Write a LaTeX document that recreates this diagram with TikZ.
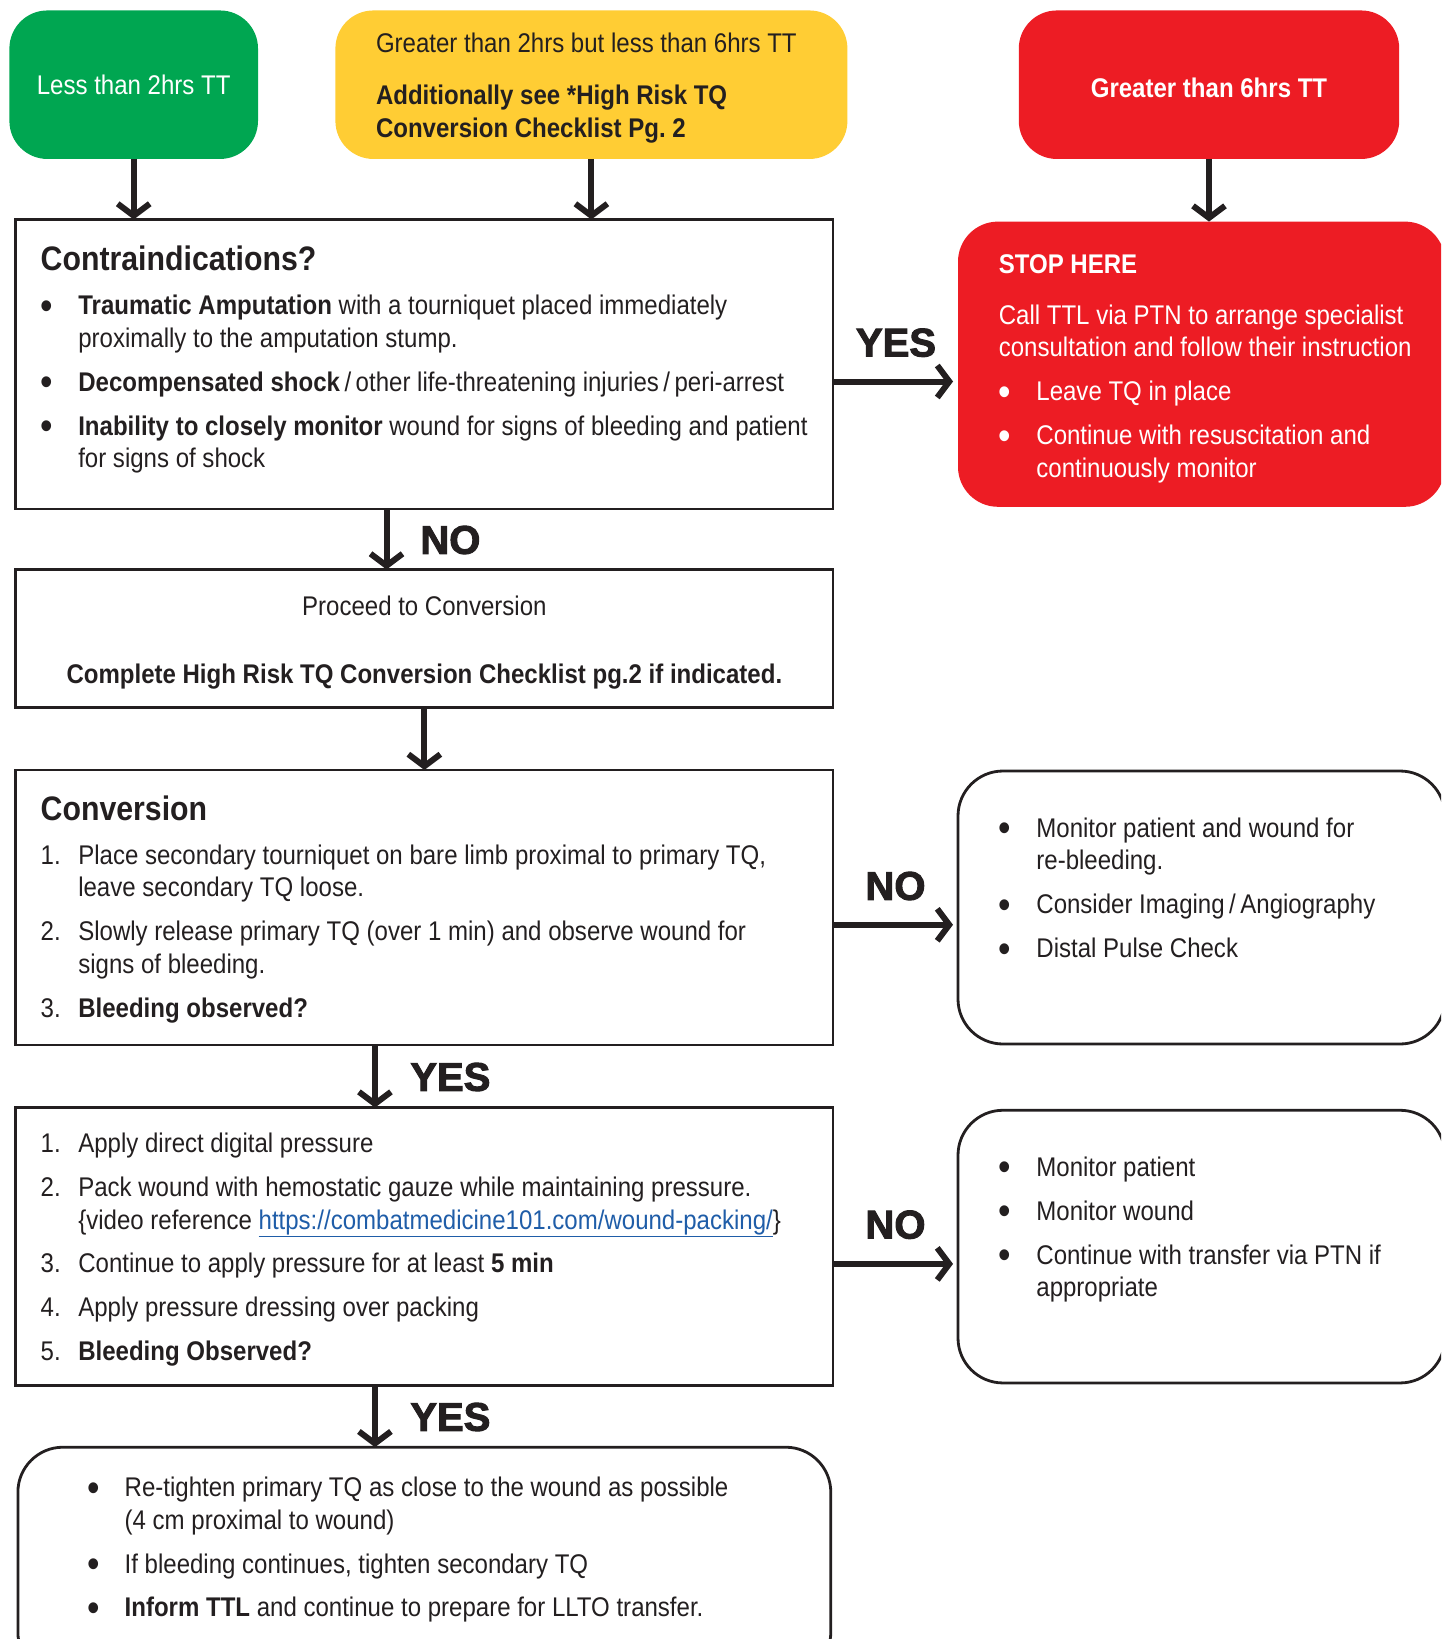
\documentclass[tikz,border=0pt]{standalone}
\usepackage{fontspec}
\setmainfont{Liberation Sans}[FakeStretch=0.89]
\newfontfamily\tagfont{Liberation Sans}[FakeBold=2.5]
\usepackage{enumitem}
\usetikzlibrary{positioning,arrows.meta}

\definecolor{tqgreen}{HTML}{00A651}
\definecolor{tqyellow}{HTML}{FFCD34}
\definecolor{tqred}{HTML}{ED1C24}
\definecolor{tqline}{HTML}{231F20}
\definecolor{tqlink}{HTML}{1F5DA8}

\newcommand{\bodysize}{\fontsize{27}{32.4}\selectfont}
\newcommand{\headsize}{\fontsize{34}{40}\selectfont}
% box width, left pad, text height, text
\newcommand{\boxtext}[4]{\makebox[#1][l]{\hspace{#2}\parbox[c][#3][t]{\dimexpr#1-#2\relax}{\raggedright #4}}}

\setlist[itemize]{label={\raisebox{-4.5pt}{\fontsize{40}{40}\selectfont\textbullet}},
                  labelindent=0pt, labelwidth=37.6pt, labelsep=0pt,
                  leftmargin=37.6pt, itemindent=0pt, align=left, itemsep=11.5pt,
                  topsep=0pt, parsep=0pt, partopsep=0pt}
\setlist[enumerate]{label=\arabic*., labelindent=0pt, labelwidth=37.6pt, labelsep=0pt,
                    leftmargin=37.6pt, itemindent=0pt, align=left, itemsep=11.5pt,
                    topsep=0pt, parsep=0pt, partopsep=0pt}

\tikzset{
  timebox/.style   = {rounded corners=38pt, minimum height=148.5pt, inner sep=0pt, outer sep=0pt,
                      align=center, font=\bodysize},
  panel/.style     = {draw=tqline, line width=2.8pt, inner sep=0pt, outer sep=0pt,
                      minimum width=817.3pt, font=\bodysize, text=tqline},
  softpanel/.style = {panel, rounded corners=45pt},
  sidepanel/.style = {softpanel, minimum width=487pt},
  stopbox/.style   = {fill=tqred, rounded corners=40pt, inner sep=0pt, outer sep=0pt,
                      minimum width=487pt, font=\bodysize, text=white},
  answer/.style    = {inner sep=0pt, font=\tagfont\bfseries\fontsize{40}{40}\selectfont, text=tqline},
  arrow/.style     = {draw=tqline, line width=6pt, -{Straight Barb[length=12pt,width=32pt]}},
}

\begin{document}
\begin{tikzpicture}[x=1pt, y=-1pt]
  \useasboundingbox (0,0) rectangle (1441,1639);
  \clip (0,0) rectangle (1441,1639);

  % time since tourniquet
  \node[timebox, fill=tqgreen, text=white, minimum width=248.6pt] (lt2) at (133.7,84.7) {Less than 2hrs TT};
  \node[timebox, fill=tqyellow, text=tqline, minimum width=512pt, text width=430.8pt, align=flush left] (mid) at (591.4,84.7)
    {\rule{0pt}{26pt}Greater than 2hrs but less than 6hrs TT\\[19.6pt]
     \textbf{Additionally see *High Risk TQ\\ Conversion Checklist Pg.~2}};
  \node[timebox, fill=tqred, text=white, minimum width=380.4pt, font=\bodysize\bfseries] (gt6) at (1209,84.7)
    {\rule{0pt}{26pt}Greater than 6hrs TT};

  % left column
  \node[panel, anchor=north west, minimum height=289.4pt] (contra) at (15.7,219.5)
    {\boxtext{817.3pt}{25pt}{236.8pt}{%
      {\headsize\bfseries Contraindications?\par}
      \vspace{12pt}
      \begin{itemize}
        \item \textbf{Traumatic Amputation} with a tourniquet placed immediately\\ proximally to the amputation stump.
        \item \textbf{Decompensated shock}\,/\,other life-threatening injuries\,/\,peri-arrest
        \item \textbf{Inability to closely monitor} wound for signs of bleeding and patient\\ for signs of shock
      \end{itemize}}};
  \node[panel, below=60.6pt of contra, minimum height=137.9pt, align=center] (proceed)
    {\rule{0pt}{28pt}Proceed to Conversion\\[35.6pt]
     \textbf{Complete High Risk TQ Conversion Checklist pg.2 if indicated.}};
  \node[panel, below=62.6pt of proceed, minimum height=275pt] (conversion)
    {\boxtext{817.3pt}{25pt}{224pt}{%
      {\headsize\bfseries Conversion\par}
      \vspace{12pt}
      \begin{enumerate}
        \item Place secondary tourniquet on bare limb proximal to primary TQ,\\ leave secondary TQ loose.
        \item Slowly release primary TQ (over 1 min) and observe wound for\\ signs of bleeding.
        \item \textbf{Bleeding observed?}
      \end{enumerate}}};
  \node[panel, below=62.6pt of conversion, minimum height=278pt] (pressure)
    {\boxtext{817.3pt}{25pt}{226.8pt}{%
      \begin{enumerate}
        \item Apply direct digital pressure
        \item Pack wound with hemostatic gauze while maintaining pressure.\\
              \{video reference {\color{tqlink}\underline{https://combatmedicine101.com/wound-packing/}}\}
        \item Continue to apply pressure for at least \textbf{5 min}
        \item Apply pressure dressing over packing
        \item \textbf{Bleeding Observed?}
      \end{enumerate}}};
  \node[softpanel, below=61.6pt of pressure, minimum width=812.9pt, minimum height=230pt] (relief)
    {\boxtext{812.9pt}{69.2pt}{170pt}{%
      \begin{itemize}
        \item Re-tighten primary TQ as close to the wound as possible\\ (4 cm proximal to wound)
        \item If bleeding continues, tighten secondary TQ
        \item \textbf{Inform TTL} and continue to prepare for LLTO transfer.
      \end{itemize}}};

  % right column
  \node[stopbox, right=125pt of contra, minimum height=285.2pt] (stop)
    {\boxtext{487pt}{40.8pt}{219.8pt}{%
      \textbf{STOP HERE}\par
      \vspace{19pt}
      Call TTL via PTN to arrange specialist\\ consultation and follow their instruction\par
      \vspace{11.4pt}
      \begin{itemize}
        \item Leave TQ in place
        \item Continue with resuscitation and\\ continuously monitor
      \end{itemize}}};
  \node[sidepanel, right=125pt of conversion, minimum height=273pt] (watch)
    {\boxtext{487pt}{40.8pt}{179.4pt}{%
      \begin{itemize}
        \item Monitor patient and wound for\\ re-bleeding.
        \item Consider Imaging\,/\,Angiography
        \item Distal Pulse Check
      \end{itemize}}};
  \node[sidepanel, right=125pt of pressure, minimum height=272.7pt] (keepwatch)
    {\boxtext{487pt}{40.8pt}{179.7pt}{%
      \begin{itemize}
        \item Monitor patient
        \item Monitor wound
        \item Continue with transfer via PTN if\\ appropriate
      \end{itemize}}};

  \draw[arrow] (lt2) -- (lt2 |- contra.north);
  \draw[arrow] (mid) -- (mid |- contra.north);
  \draw[arrow] (gt6) -- (gt6 |- stop.north);
  \draw[arrow] ([xshift=-37.8pt]contra.south) -- ([xshift=-37.8pt]proceed.north);
  \draw[arrow] (proceed) -- (conversion);
  \draw[arrow] ([xshift=-49.4pt]conversion.south) -- ([xshift=-49.4pt]pressure.north);
  \draw[arrow] ([xshift=-49.4pt]pressure.south) -- ([xshift=-49.4pt]relief.north);
  \draw[arrow, shorten >=5pt] ([yshift=-17.3pt]contra.east) -- ([yshift=-17.3pt]contra.east -| stop.west);
  \draw[arrow, shorten >=5pt] ([yshift=-17.3pt]conversion.east) -- ([yshift=-17.3pt]conversion.east -| watch.west);
  \draw[arrow, shorten >=5pt] ([yshift=-17.3pt]pressure.east) -- ([yshift=-17.3pt]pressure.east -| keepwatch.west);

  \node[answer] (yes1) at (896,342.7) {YES};
  \node[answer] (no1) at (450.4,540) {NO};
  \node[answer] (no2) at (895.5,886) {NO};
  \node[answer] (yes2) at (450.4,1077) {YES};
  \node[answer] (no3) at (895.5,1224.7) {NO};
  \node[answer] (yes3) at (450.4,1417) {YES};
\end{tikzpicture}
\end{document}
